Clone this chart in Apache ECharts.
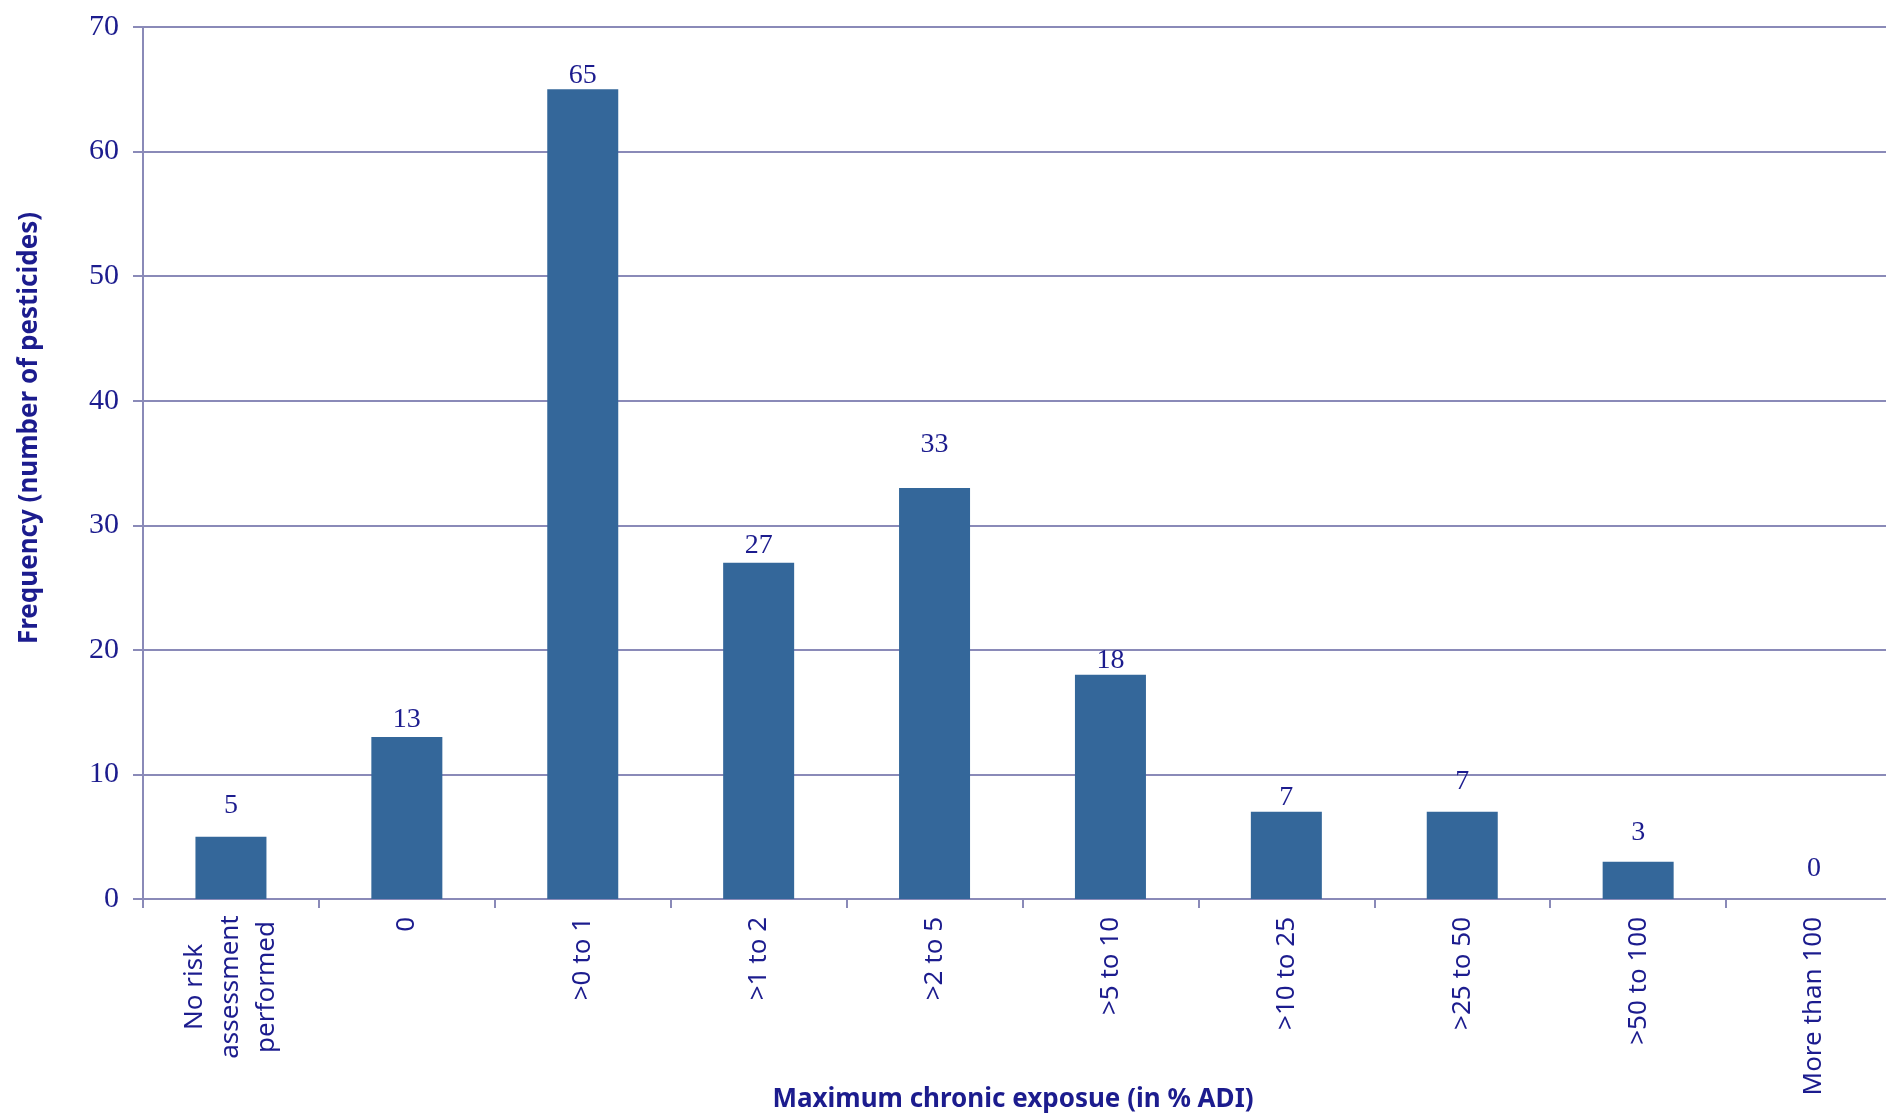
<!DOCTYPE html>
<html>
<head>
<meta charset="utf-8">
<script src="https://cdn.jsdelivr.net/npm/echarts@6/dist/echarts.min.js"></script>
<style>
html,body{margin:0;padding:0;background:#fff;overflow:hidden;width:1886px;height:1116px;}
#chart{width:1902px;height:1116px;}
</style>
</head>
<body>
<div id="chart"></div>
<script>
var categories = ['No risk\nassessment\nperformed', '0', '>0 to 1', '>1 to 2', '>2 to 5', '>5 to 10', '>10 to 25', '>25 to 50', '>50 to 100', 'More than 100'];
var values = [5, 13, 65, 27, 33, 18, 7, 7, 3, 0];
var yTicks = [0, 10, 20, 30, 40, 50, 60, 70];
var yTitle = 'Frequency (number of pesticides)';
var xTitle = 'Maximum chronic exposue (in % ADI)';
var labelGaps = [17, 3, 0, 3, 29, 0, 0, 16, 15, 16];

var textColor = '#1c1c8e';
var lineColor = '#8a8ab8';
var chart = echarts.init(document.getElementById('chart'));
chart.setOption({
  animation: false,
  backgroundColor: '#ffffff',
  grid: {left: 143, top: 27, right: 0, bottom: 217, containLabel: false},
  xAxis: {
    type: 'category',
    data: categories,
    axisLine: {lineStyle: {color: lineColor, width: 2}},
    axisTick: {show: true, alignWithLabel: false, length: 9, lineStyle: {color: lineColor, width: 2}},
    axisLabel: {
      rotate: 90, interval: 0, margin: 18,
      color: textColor, fontFamily: 'Noto Sans', fontSize: 26,
      formatter: function (v, i) {
        if (v.indexOf('\n') >= 0) {
          return v.split('\n').map(function (s) { return '{c|' + s + '}'; }).join('\n');
        }
        return v;
      },
      rich: {c: {width: 140, align: 'center', color: textColor, fontFamily: 'Noto Sans', fontSize: 26, lineHeight: 36}}
    }
  },
  yAxis: {
    type: 'value', min: yTicks[0], max: yTicks[yTicks.length - 1], interval: 10,
    axisLine: {show: true, lineStyle: {color: lineColor, width: 2}},
    axisTick: {show: true, length: 10, lineStyle: {color: lineColor, width: 2}},
    splitLine: {lineStyle: {color: lineColor, width: 2}},
    axisLabel: {color: textColor, fontFamily: 'Liberation Serif', fontSize: 30, margin: 24}
  },
  series: [{
    type: 'bar',
    barWidth: 71,
    itemStyle: {color: '#34679a'},
    data: values.map(function (v, i) {
      return {value: v, label: {distance: labelGaps[i]}};
    }),
    label: {show: true, position: 'top', color: textColor, fontFamily: 'Liberation Serif', fontSize: 28}
  }],
  graphic: [
    {type: 'text', x: 30, y: 428, rotation: Math.PI / 2,
     style: {text: yTitle, fill: textColor, font: 'bold 26px "Noto Sans"', textAlign: 'center', textVerticalAlign: 'middle'}},
    {type: 'text', x: 1013, y: 1100,
     style: {text: xTitle, fill: textColor, font: 'bold 26px "Noto Sans"', textAlign: 'center', textVerticalAlign: 'middle'}}
  ]
});
</script>
</body>
</html>
